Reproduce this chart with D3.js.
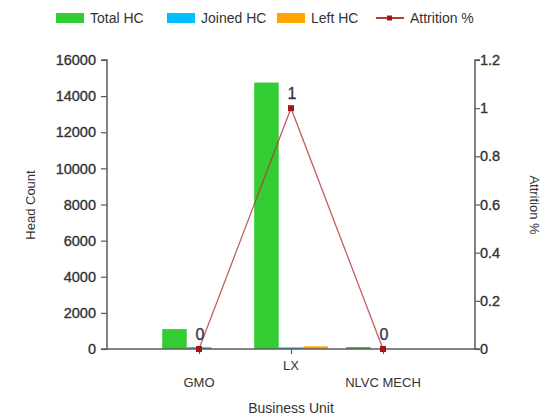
<!DOCTYPE html>
<html><head><meta charset="utf-8">
<script src="https://cdn.jsdelivr.net/npm/d3@7/dist/d3.min.js"></script>
<style>body{margin:0;background:#fff}svg{font-family:"Liberation Sans",Arial,sans-serif}</style>
</head><body><svg id="c" width="545" height="419"></svg>
<script>
const categories = ["GMO", "LX", "NLVC MECH"];
const totalHC = [1100, 14750, 110];
const joinedHC = [100, 90, 0];
const leftHC = [0, 150, 0];
const attrition = [0, 1, 0];
const leftTicks = [0, 2000, 4000, 6000, 8000, 10000, 12000, 14000, 16000];
const rightTicks = [0, 0.2, 0.4, 0.6, 0.8, 1, 1.2];
const seriesNames = ["Total HC", "Joined HC", "Left HC"];
const seriesColors = ["#33cc33", "#00bfff", "#ffa500"];
const lineName = "Attrition %";
const lineColor = "#b03a3a";

const svg = d3.select("#c");
const L = 107, R = 475, T = 60, B = 349;
const textColor = "#333333", axisColor = "#5a5a5a";

const x = d3.scalePoint().domain(categories).range([L, R]).padding(1);
const step = x.step();
const xs = d3.scaleBand().domain(seriesNames).range([-step*0.4, step*0.4]);
const yL = d3.scaleLinear().domain([0, 16000]).range([B, T]);
const yR = d3.scaleLinear().domain([0, 1.2]).range([B, T]);

const seriesData = [totalHC, joinedHC, leftHC];

// bars
seriesNames.forEach((s, si) => {
  svg.append("g").selectAll("rect").data(categories).join("rect")
    .attr("x", c => x(c) + xs(s))
    .attr("width", xs.bandwidth())
    .attr("y", (c, i) => yL(seriesData[si][i]))
    .attr("height", (c, i) => B - yL(seriesData[si][i]))
    .attr("fill", seriesColors[si]);
});

// axes
const gl = svg.append("g").attr("transform", `translate(${L},0)`)
  .call(d3.axisLeft(yL).tickValues(leftTicks).tickSize(6).tickPadding(5).tickFormat(d3.format("d")));
const gr = svg.append("g").attr("transform", `translate(${R},0)`)
  .call(d3.axisRight(yR).tickValues(rightTicks).tickSize(5).tickPadding(0).tickFormat(d => d3.format("")(d)));
const gx = svg.append("g").attr("transform", `translate(0,${B})`)
  .call(d3.axisBottom(x).tickSize(5).tickSizeOuter(0).tickFormat(""));
[gl, gr, gx].forEach(g => {
  g.select(".domain").attr("stroke", axisColor).attr("stroke-width", 1.5);
  g.selectAll(".tick line").attr("stroke", axisColor).attr("stroke-width", 1.2);
  g.selectAll("text").attr("fill", textColor).attr("stroke", textColor).attr("stroke-width", 0.35)
    .style("font-size", "14.5px").style("font-family", "Liberation Sans, Arial, sans-serif");
});
gl.select(".domain").attr("d", `M-6,${T}H0V${B}H-6`);
gr.select(".domain").attr("d", `M5,${T}H0V${B}H5`);
gx.select(".domain").attr("d", `M${L},0H${R}`);

// category labels (staggered)
svg.append("g").selectAll("text").data(categories).join("text")
  .attr("x", c => x(c))
  .attr("y", (c, i) => i % 2 === 1 ? 370 : 387)
  .attr("text-anchor", "middle")
  .attr("fill", textColor).style("font-size", "13px")
  .text(c => c);

// line
const line = d3.line().x((d, i) => x(categories[i])).y(d => yR(d));
svg.append("path").datum(attrition).attr("d", line)
  .attr("fill", "none").attr("stroke", lineColor).attr("stroke-opacity", 0.8).attr("stroke-width", 1.3);
svg.append("g").selectAll("rect").data(attrition).join("rect")
  .attr("x", (d, i) => x(categories[i]) - 3)
  .attr("y", d => yR(d) - 3)
  .attr("width", 6).attr("height", 6)
  .attr("fill", "#a01818");
svg.append("g").selectAll("text").data(attrition).join("text")
  .attr("x", (d, i) => x(categories[i]) + 1)
  .attr("y", d => yR(d) - 9)
  .attr("text-anchor", "middle")
  .attr("fill", "#33334d").attr("stroke", "#33334d").attr("stroke-width", 0.3).style("font-size", "16px")
  .text(d => d);

// axis titles
svg.append("text").attr("transform", "translate(35,205) rotate(-90)")
  .attr("text-anchor", "middle").attr("fill", textColor).style("font-size", "13px").text("Head Count");
svg.append("text").attr("transform", "translate(530,205) rotate(90)")
  .attr("text-anchor", "middle").attr("fill", textColor).style("font-size", "13px").text("Attrition %");
svg.append("text").attr("x", 291).attr("y", 413)
  .attr("text-anchor", "middle").attr("fill", textColor).style("font-size", "14px").text("Business Unit");

// legend
const legX = [56, 167, 277];
seriesNames.forEach((s, i) => {
  svg.append("rect").attr("x", legX[i]).attr("y", 13).attr("width", 28).attr("height", 10).attr("fill", seriesColors[i]);
  svg.append("text").attr("x", legX[i] + 34).attr("y", 22.5).attr("fill", textColor).style("font-size", "14px").text(s);
});
svg.append("line").attr("x1", 376).attr("x2", 404).attr("y1", 18).attr("y2", 18).attr("stroke", lineColor).attr("stroke-width", 2);
svg.append("rect").attr("x", 387).attr("y", 15.5).attr("width", 5).attr("height", 5).attr("fill", "#a01818");
svg.append("text").attr("x", 410).attr("y", 22.5).attr("fill", textColor).style("font-size", "14px").text(lineName);
</script></body></html>
